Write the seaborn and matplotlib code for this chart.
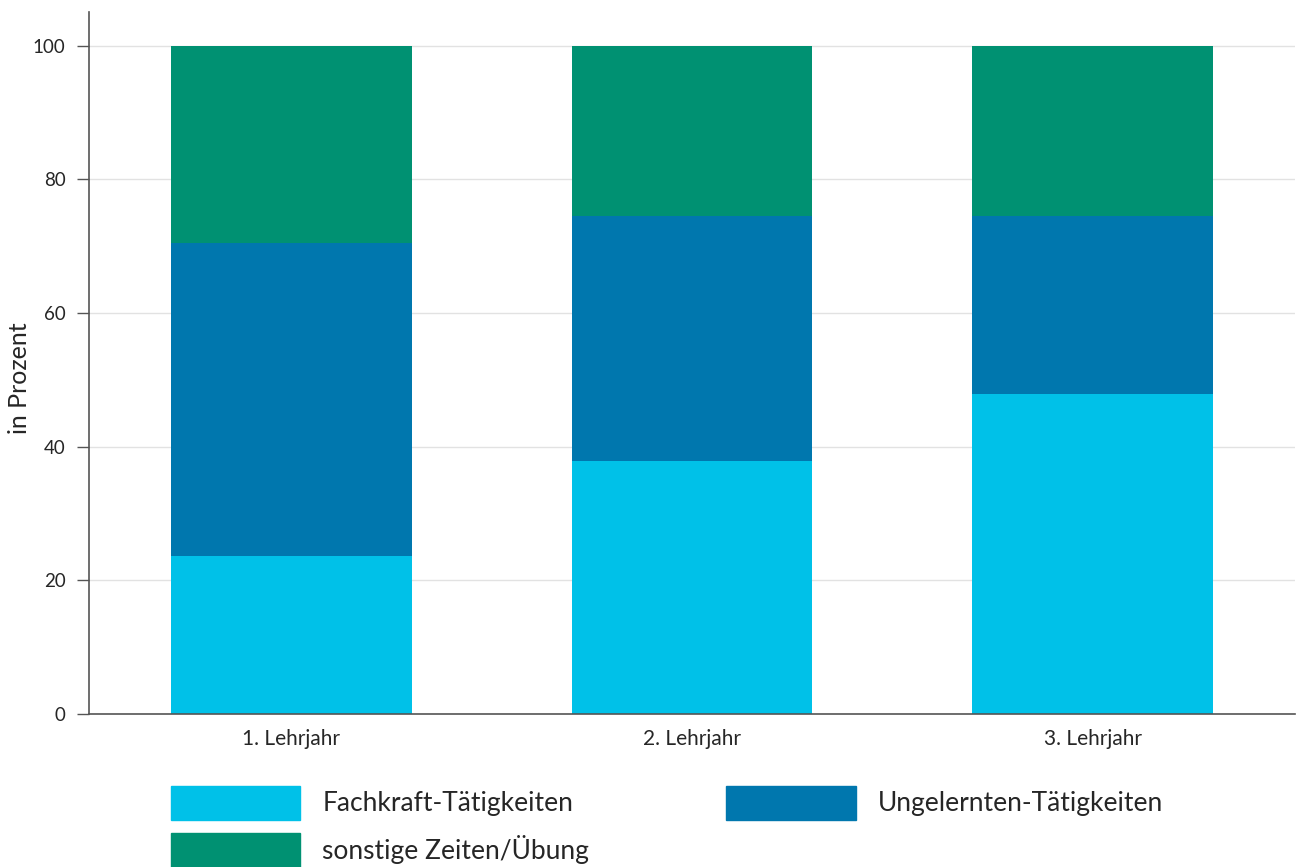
import seaborn as sns
import matplotlib.pyplot as plt
import pandas as pd
from matplotlib.patches import Patch

# values (percent)
jahre = ['1. Lehrjahr', '2. Lehrjahr', '3. Lehrjahr']
fachkraft = [23.7, 37.9, 47.9]
ungelernt = [46.8, 36.6, 26.6]
sonstige = [29.5, 25.5, 25.5]
namen = ['Fachkraft-Tätigkeiten', 'Ungelernten-Tätigkeiten', 'sonstige Zeiten/Übung']
farben = ['#00c1e8', '#0077ae', '#009172']

sns.set_style('white')
plt.rcParams['font.family'] = ['Lato', 'DejaVu Sans']

df = pd.DataFrame({'jahr': jahre, 'f': fachkraft, 'u': ungelernt, 's': sonstige})
df['top1'] = df['f']
df['top2'] = df['f'] + df['u']
df['top3'] = df['top2'] + df['s']

fig = plt.figure(figsize=(12.98, 8.67), dpi=100)
ax = fig.add_axes([0.0686, 0.1765, 0.929, 0.8095])

# stacked: draw cumulative totals from the top down
for col, c in zip(['top3', 'top2', 'top1'], farben[::-1]):
    sns.barplot(data=df, x='jahr', y=col, color=c, width=0.6, saturation=1,
                linewidth=0, ax=ax, zorder=2)

ax.set_ylim(0, 105)
ax.set_xlim(-0.505, 2.505)
ax.set_yticks([0, 20, 40, 60, 80, 100])
ax.yaxis.grid(True, color='#e2e2e2', lw=1, zorder=0)
ax.set_axisbelow(True)
ax.set_xlabel('')
ax.set_ylabel('in Prozent', fontsize=18)
ax.yaxis.set_label_coords(-0.048, 0.478)
ax.tick_params(axis='y', length=9, width=1, color='#555555', labelsize=13.5, pad=8, left=True)
ax.tick_params(axis='x', length=0, labelsize=15, pad=11)
for s in ['top', 'right']:
    ax.spines[s].set_visible(False)
for s in ['left', 'bottom']:
    ax.spines[s].set_color('#555555')
    ax.spines[s].set_linewidth(1.2)

handles = [Patch(color=farben[0], label=namen[0]),
           Patch(color=farben[2], label=namen[2]),
           Patch(color=farben[1], label=namen[1])]
fig.legend(handles=handles, ncol=2, loc='upper left', bbox_to_anchor=(0.1317, 0.094),
           frameon=False, fontsize=19, handlelength=4.9, handleheight=1.64,
           handletextpad=0.83, columnspacing=5.2, labelspacing=0.5,
           borderpad=0, borderaxespad=0)

fig.savefig('out.png', dpi=100)
